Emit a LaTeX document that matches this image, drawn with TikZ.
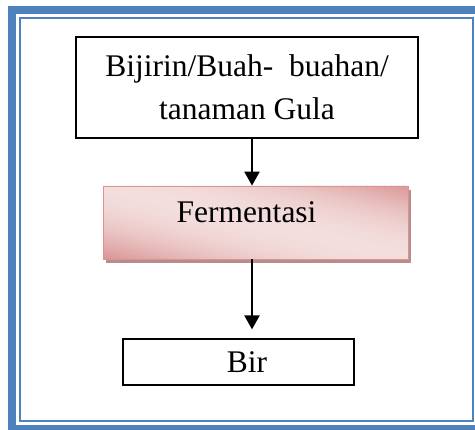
\documentclass[tikz,border=0pt]{standalone}
\usepackage{fontspec}
\setmainfont{Liberation Serif}
\usetikzlibrary{arrows.meta}
\definecolor{frameblue}{RGB}{79,129,189}
\definecolor{pinkgelap}{RGB}{217,149,148}
\definecolor{pinkterang}{RGB}{243,222,221}
\definecolor{bayangan}{RGB}{185,140,140}
\tikzset{
    plainbox/.style={draw=black, line width=1.2pt, fill=white, inner sep=0pt,
        align=center, font=\fontsize{31.5}{43}\selectfont},
    fermbox/.style={draw=pinkgelap, line width=0.8pt, inner sep=0pt,
        font=\fontsize{31.5}{43}\selectfont},
    panah/.style={-{Triangle[width=15pt,length=14pt]}, line width=2.3pt}
}
\begin{document}
\begin{tikzpicture}[x=1pt,y=-1pt]
                \useasboundingbox (0,0) rectangle (475,430);
                % bingkai
                \draw [frameblue, line width=8pt] (12,10) rectangle (482,429);
                \draw [frameblue, line width=2pt] (20,18) rectangle (473,421);
                % bayangan dan gradasi kotak fermentasi
                \fill [bayangan] (106,190) rectangle (411,263);
                \begin{scope}
                    \clip (103,186) rectangle (408,259);
                    \foreach \s in {-1.00,-0.98,...,1.00} {
                        \pgfmathsetmacro\p{100*(1-\s*\s)}
                        \fill [pinkterang!\p!pinkgelap] (103+305*\s,186) -- (103+305*\s+9,186) -- (408+305*\s+9,259) -- (408+305*\s,259) -- cycle;
                    }
                \end{scope}
                % kotak
                \node [plainbox, minimum width=342pt, minimum height=101pt] (bahan) at (247,87.5) {Bijirin/Buah-\ \ buahan/\\tanaman Gula};
                \node [fermbox, minimum width=305pt, minimum height=73pt, text height=37pt, text depth=36pt] (ferm) at (255.5,222.5) {\hspace*{-18pt}Fermentasi};
                \node [plainbox, minimum width=231pt, minimum height=46pt] (bir) at (238.5,362) {\hspace*{17pt}Bir};
                % panah
                \coordinate (poros) at (252,0);
                \draw [panah] (bahan.south -| poros) -- (ferm.north -| poros);
                \draw [panah, shorten >=9pt] (ferm.south -| poros) -- (bir.north -| poros);
\end{tikzpicture}
\end{document}
